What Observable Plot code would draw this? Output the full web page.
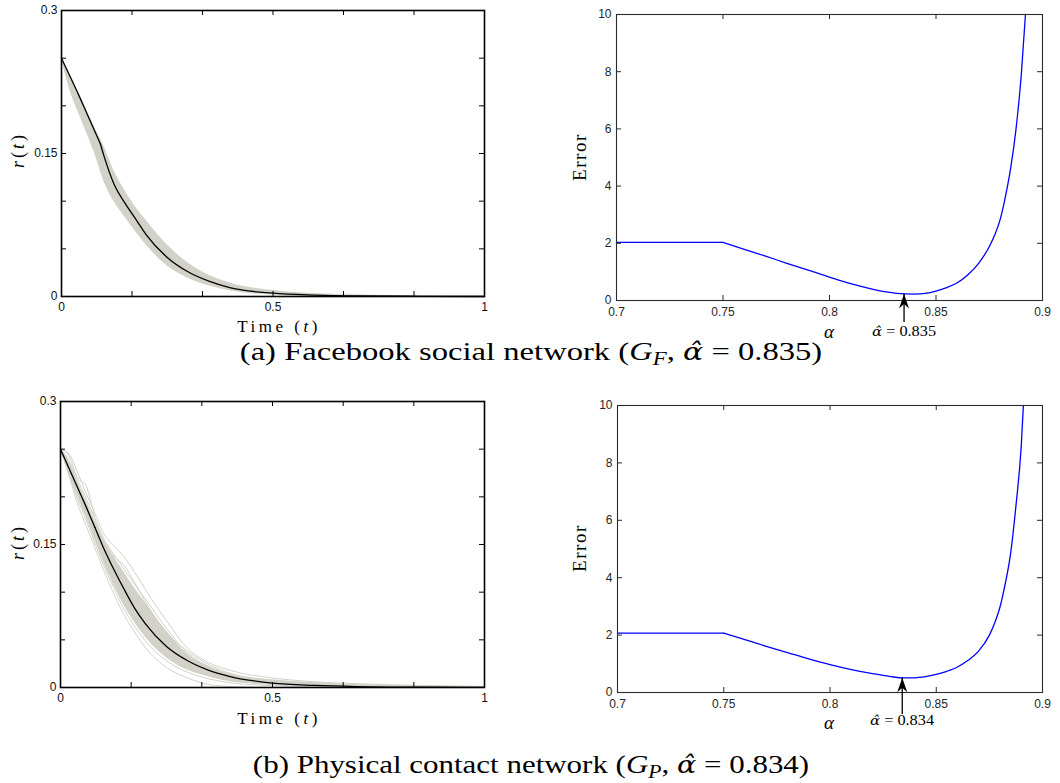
<!DOCTYPE html>
<html>
<head>
<meta charset="utf-8">
<script src="https://cdn.jsdelivr.net/npm/d3@7"></script>
<script src="https://cdn.jsdelivr.net/npm/@observablehq/plot@0.6"></script>
<style>
  html, body { margin: 0; padding: 0; background: #fff; }
  #figure { position: relative; width: 1060px; height: 783px; overflow: hidden; background: #fff; }
  .panel { position: absolute; }
  .panel svg text { font-size: 12px; }
  .label { position: absolute; white-space: nowrap; font-family: "Liberation Serif", "Times New Roman", serif;
           color: #000; line-height: 1; z-index: 2; }
  .ahat { font-family: "DejaVu Serif", serif; font-style: italic; font-size: 0.92em; }
  sub { font-size: 0.7em; vertical-align: -0.3em; line-height: 0; }
</style>
</head>
<body>
<div id="figure"></div>
<script>
// ---------- tick values ----------
const timeTickLabels = [0, 0.5, 1];
const timeMinorTicks = [0.1667, 0.3333, 0.5, 0.6667, 0.8333];
const rTickLabels = [0, 0.15, 0.3];
const rMinorTicks = [0.05, 0.1, 0.15, 0.2, 0.25];
const alphaTickLabels = [0.7, 0.75, 0.8, 0.85, 0.9];
const alphaMinorTicks = [0.75, 0.8, 0.85];
const errorTickLabels = [0, 2, 4, 6, 8, 10];
const errorMinorTicks = [2, 4, 6, 8];

// ---------- simulated runs: time grid shared by every run ----------
const runTime = [0, 0.02, 0.04, 0.06, 0.08, 0.1, 0.125, 0.15, 0.175, 0.2, 0.25, 0.3, 0.35, 0.4, 0.5, 0.6, 0.7, 0.85, 1];

// Facebook social network: average r(t) and spread of the runs
const fbMeanTime = [0, 0.02, 0.04, 0.06, 0.08, 0.092, 0.1, 0.125, 0.15, 0.175, 0.2, 0.25, 0.3, 0.35, 0.4, 0.5, 0.6, 0.7, 0.85, 1];
const fbMeanR    = [0.25, 0.231, 0.212, 0.192, 0.172, 0.160, 0.148, 0.117, 0.098, 0.0815, 0.065, 0.041, 0.0257, 0.0158, 0.009, 0.0035, 0.0015, 0.0006, 0.0002, 0];
const fbKink = 5;
const fbBandLow  = [0.25, 0.216, 0.193, 0.171, 0.148, 0.121, 0.099, 0.083, 0.068, 0.054, 0.032, 0.019, 0.011, 0.006, 0.0018, 0.0006, 0.0002, 0, 0];
const fbBandHigh = [0.25, 0.233, 0.214, 0.195, 0.176, 0.158, 0.131, 0.111, 0.094, 0.080, 0.054, 0.035, 0.022, 0.014, 0.0062, 0.003, 0.0015, 0.0005, 0.0002];
const fbRunA = [0.25, 0.224, 0.203, 0.182, 0.161, 0.139, 0.117, 0.100, 0.084, 0.070, 0.046, 0.029, 0.018, 0.011, 0.004, 0.0015, 0.0006, 0.0002, 0];
const fbRunB = [0.25, 0.219, 0.197, 0.175, 0.152, 0.127, 0.104, 0.088, 0.073, 0.059, 0.037, 0.022, 0.013, 0.007, 0.0025, 0.0008, 0.0003, 0, 0];
const fbRunC = [0.25, 0.229, 0.209, 0.190, 0.170, 0.152, 0.127, 0.108, 0.092, 0.078, 0.052, 0.033, 0.021, 0.013, 0.0055, 0.0025, 0.0012, 0.0004, 0.0001];
const fbRunD = [0.25, 0.221, 0.199, 0.178, 0.156, 0.132, 0.110, 0.094, 0.079, 0.065, 0.042, 0.026, 0.016, 0.009, 0.0032, 0.0012, 0.0004, 0.0001, 0];

// Physical contact network
const pMeanTime = [0, 0.02, 0.04, 0.06, 0.081, 0.1, 0.125, 0.15, 0.175, 0.2, 0.25, 0.3, 0.35, 0.4, 0.5, 0.6, 0.7, 0.85, 1];
const pMeanR    = [0.25, 0.230, 0.210, 0.190, 0.168, 0.148, 0.1245, 0.103, 0.083, 0.067, 0.043, 0.028, 0.018, 0.0115, 0.0046, 0.0022, 0.001, 0.0003, 0.0001];
const pKink = 4;
const pBandLow  = [0.25, 0.225, 0.201, 0.179, 0.156, 0.133, 0.108, 0.086, 0.068, 0.053, 0.031, 0.018, 0.011, 0.006, 0.0025, 0.001, 0.0004, 0.0001, 0];
const pBandHigh = [0.25, 0.237, 0.216, 0.197, 0.176, 0.157, 0.138, 0.121, 0.104, 0.089, 0.059, 0.035, 0.022, 0.014, 0.0075, 0.0045, 0.0025, 0.0015, 0.0006];
const pRunA = [0.25, 0.245, 0.226, 0.204, 0.184, 0.163, 0.149, 0.137, 0.121, 0.103, 0.070, 0.041, 0.026, 0.018, 0.010, 0.006, 0.004, 0.002, 0.001];
const pRunB = [0.25, 0.238, 0.218, 0.199, 0.178, 0.158, 0.140, 0.124, 0.108, 0.093, 0.062, 0.036, 0.022, 0.014, 0.008, 0.005, 0.003, 0.002, 0.001];
const pRunC = [0.25, 0.235, 0.212, 0.193, 0.172, 0.150, 0.132, 0.113, 0.096, 0.080, 0.052, 0.032, 0.020, 0.012, 0.006, 0.003, 0.002, 0.001, 0.0005];
const pRunD = [0.25, 0.232, 0.210, 0.188, 0.166, 0.146, 0.124, 0.104, 0.086, 0.070, 0.046, 0.030, 0.019, 0.012, 0.005, 0.002, 0.001, 0.0005, 0];
const pRunE = [0.25, 0.228, 0.206, 0.185, 0.162, 0.140, 0.117, 0.096, 0.079, 0.064, 0.040, 0.025, 0.016, 0.010, 0.004, 0.002, 0.001, 0, 0];
const pRunF = [0.25, 0.226, 0.203, 0.181, 0.158, 0.135, 0.110, 0.089, 0.072, 0.057, 0.035, 0.021, 0.013, 0.008, 0.003, 0.001, 0.0005, 0, 0];
const pRunG = [0.25, 0.224, 0.198, 0.176, 0.153, 0.130, 0.105, 0.082, 0.064, 0.049, 0.028, 0.016, 0.009, 0.005, 0.002, 0.001, 0, 0, 0];
const pRunH = [0.25, 0.222, 0.193, 0.170, 0.148, 0.125, 0.099, 0.076, 0.058, 0.042, 0.021, 0.010, 0.003, 0.001, 0, 0, 0, 0, 0];
const pRunI = [0.25, 0.243, 0.220, 0.212, 0.180, 0.152, 0.138, 0.128, 0.110, 0.090, 0.058, 0.038, 0.024, 0.015, 0.007, 0.004, 0.002, 0.001, 0];
const pRunJ = [0.25, 0.236, 0.214, 0.190, 0.170, 0.155, 0.136, 0.118, 0.100, 0.086, 0.057, 0.034, 0.021, 0.013, 0.006, 0.003, 0.0015, 0.0008, 0.0003];
const pRunK = [0.25, 0.230, 0.204, 0.186, 0.160, 0.138, 0.120, 0.100, 0.083, 0.068, 0.043, 0.027, 0.017, 0.011, 0.005, 0.0025, 0.001, 0.0005, 0];
const pRunL = [0.25, 0.233, 0.213, 0.191, 0.170, 0.149, 0.128, 0.109, 0.092, 0.076, 0.050, 0.033, 0.021, 0.013, 0.006, 0.003, 0.0015, 0.0007, 0.0002];

// ---------- fitting error against alpha ----------
const fbAlpha = [0.70, 0.75, 0.76, 0.77, 0.78, 0.79, 0.80, 0.81, 0.82, 0.825, 0.83, 0.835, 0.84, 0.845, 0.85, 0.855, 0.86, 0.865, 0.87, 0.875, 0.8775, 0.88, 0.8825, 0.885, 0.8875, 0.89, 0.892];
const fbError = [2.03, 2.03, 1.79, 1.55, 1.30, 1.06, 0.82, 0.59, 0.40, 0.32, 0.265, 0.23, 0.225, 0.25, 0.33, 0.45, 0.62, 0.90, 1.30, 1.88, 2.28, 2.80, 3.60, 4.60, 5.95, 7.85, 10.0];
const fbHat = 0.835;

const pAlpha = [0.70, 0.75, 0.76, 0.77, 0.78, 0.79, 0.80, 0.81, 0.82, 0.825, 0.83, 0.834, 0.84, 0.845, 0.85, 0.855, 0.86, 0.865, 0.87, 0.875, 0.8775, 0.88, 0.8825, 0.885, 0.8875, 0.89, 0.891];
const pError = [2.07, 2.07, 1.84, 1.61, 1.39, 1.17, 0.97, 0.80, 0.66, 0.60, 0.54, 0.51, 0.51, 0.55, 0.63, 0.74, 0.89, 1.12, 1.45, 2.0, 2.42, 2.98, 3.80, 4.85, 6.50, 8.60, 10.0];
const pHat = 0.834;

// ---------- drawing helpers ----------
const sans = "'Liberation Sans', Arial, Helvetica, sans-serif";
const runColor = "#d3d2c9";
const fig = document.getElementById("figure");

// inward tick marks on all four sides of the frame
function boxTicks(xs, ys, fw, fh, len, stroke) {
  return [
    Plot.tickX(xs, {x: d => d, insetTop: fh - len, stroke, strokeWidth: 1}),
    Plot.tickX(xs, {x: d => d, insetBottom: fh - len, stroke, strokeWidth: 1}),
    Plot.tickY(ys, {y: d => d, insetRight: fw - len, stroke, strokeWidth: 1}),
    Plot.tickY(ys, {y: d => d, insetLeft: fw - len, stroke, strokeWidth: 1})
  ];
}

// filled arrowhead pointing up, tip at the anchor point
const arrowHead = {
  draw(context, size) {
    const s = Math.sqrt(size / Math.PI);
    context.moveTo(0, 0);
    context.lineTo(s, 2.9 * s);
    context.lineTo(0, 2.0 * s);
    context.lineTo(-s, 2.9 * s);
    context.closePath();
  }
};

function spreadPlot(cfg) {
  const fw = cfg.width - cfg.marginLeft - cfg.marginRight;
  const fh = cfg.height - cfg.marginTop - cfg.marginBottom;
  const runRows = cfg.runs.flatMap((vals, k) => vals.map((r, i) => ({t: runTime[i], r, run: k})));
  const bandRows = runTime.map((t, i) => ({t, lo: cfg.bandLow[i], hi: cfg.bandHigh[i]}));
  const meanRows = cfg.meanTime.map((t, i) => ({t, r: cfg.meanR[i]}));
  return Plot.plot({
    width: cfg.width, height: cfg.height,
    marginLeft: cfg.marginLeft, marginRight: cfg.marginRight,
    marginTop: cfg.marginTop, marginBottom: cfg.marginBottom,
    style: {fontFamily: sans, fontSize: "12px", color: "#111", background: "transparent", overflow: "visible"},
    x: {domain: [0, 1], ticks: timeTickLabels, tickSize: 0, tickPadding: 6, tickFormat: d => String(d), label: null},
    y: {domain: [0, 0.3], ticks: rTickLabels, tickSize: 0, tickPadding: 4, tickFormat: d => String(d), label: null},
    marks: [
      Plot.areaY(bandRows, {x: "t", y1: "lo", y2: "hi", fill: runColor, curve: "monotone-x"}),
      Plot.line(runRows, {x: "t", y: "r", z: "run", stroke: runColor, strokeWidth: 1, curve: "monotone-x"}),
      Plot.line(meanRows.slice(0, cfg.kink + 1), {x: "t", y: "r", stroke: "#000", strokeWidth: 1.3, curve: "monotone-x"}),
      Plot.line(meanRows.slice(cfg.kink), {x: "t", y: "r", stroke: "#000", strokeWidth: 1.3, curve: "monotone-x"}),
      ...boxTicks(timeMinorTicks, rMinorTicks, fw, fh, 5, "#000"),
      Plot.frame({stroke: "#000", strokeWidth: 1.6})
    ]
  });
}

function errorPlot(cfg) {
  const fw = cfg.width - cfg.marginLeft - cfg.marginRight;
  const fh = cfg.height - cfg.marginTop - cfg.marginBottom;
  const rows = cfg.alpha.map((a, i) => ({a, e: cfg.error[i]}));
  const hatError = cfg.error[cfg.alpha.indexOf(cfg.hat)];
  const frameColor = "#2b2b2b";
  return Plot.plot({
    width: cfg.width, height: cfg.height,
    marginLeft: cfg.marginLeft, marginRight: cfg.marginRight,
    marginTop: cfg.marginTop, marginBottom: cfg.marginBottom,
    style: {fontFamily: sans, fontSize: "12px", color: "#262626", background: "transparent", overflow: "visible"},
    x: {domain: [0.7, 0.9], ticks: alphaTickLabels, tickSize: 0, tickPadding: 7, tickFormat: d => String(d), label: null},
    y: {domain: [0, 10], ticks: errorTickLabels, tickSize: 0, tickPadding: 5, tickFormat: d => String(d), label: null},
    marks: [
      Plot.line(rows.slice(0, 2), {x: "a", y: "e", stroke: "#0000ff", strokeWidth: 1.3}),
      Plot.line(rows.slice(1), {x: "a", y: "e", stroke: "#0000ff", strokeWidth: 1.3, curve: "monotone-x"}),
      ...boxTicks(alphaMinorTicks, errorMinorTicks, fw, fh, 5, frameColor),
      Plot.frame({stroke: frameColor, strokeWidth: 1.1}),
      Plot.ruleX([cfg.hat], {x: d => d, y1: hatError, y2: 0, insetBottom: -22, stroke: "#000", strokeWidth: 1.3}),
      Plot.dot([cfg.hat], {x: d => d, y: hatError, symbol: arrowHead, r: 5, fill: "#000", stroke: "none"})
    ]
  });
}

function mount(plot, left, top, w, h) {
  const d = document.createElement("div");
  d.className = "panel";
  d.style.cssText = `left:${left}px;top:${top}px;width:${w}px;height:${h}px`;
  d.appendChild(plot);
  fig.appendChild(d);
  return plot;
}

// centred text, optionally rotated, letter-spaced or stretched to a given length
function addLabel(html, cx, cy, {size = 18, target = null, rotate = false, spacing = 0} = {}) {
  const el = document.createElement("div");
  el.className = "label";
  el.style.fontSize = size + "px";
  el.style.letterSpacing = spacing + "px";
  el.innerHTML = html;
  fig.appendChild(el);
  const sx = target ? target / el.offsetWidth : 1;
  el.style.left = cx + "px";
  el.style.top = cy + "px";
  el.style.transform = `translate(-50%, -50%)${rotate ? " rotate(-90deg)" : ""} scaleX(${sx})`;
}

const alphaHat = `<span class="ahat">\u03B1\u0302</span>`;

// ---------- (a) Facebook social network ----------
mount(spreadPlot({
  width: 530, height: 330, marginLeft: 61, marginRight: 46, marginTop: 10, marginBottom: 34,
  meanTime: fbMeanTime, meanR: fbMeanR, kink: fbKink,
  bandLow: fbBandLow, bandHigh: fbBandHigh,
  runs: [fbRunA, fbRunB, fbRunC, fbRunD]
}), 0, 0, 530, 330);

const errA = mount(errorPlot({
  width: 530, height: 345, marginLeft: 86, marginRight: 18, marginTop: 14, marginBottom: 45,
  alpha: fbAlpha, error: fbError, hat: fbHat
}), 530, 0, 530, 345);

addLabel("<i>r</i>(<i>t</i>)", 18, 150, {size: 18, spacing: 3, rotate: true});
addLabel("Time (<i>t</i>)", 279, 326, {size: 17, spacing: 3.5});
addLabel("Error", 579, 157, {size: 19, spacing: 1.6, rotate: true});
addLabel("<i>α</i>", 829, 331, {size: 19});
addLabel(`${alphaHat} = ${fbHat}`, 530 + errA.scale("x").apply(fbHat), 332, {size: 14, target: 64});
addLabel(`(a) Facebook social network (<i>G</i><sub><i>F</i></sub>, ${alphaHat} = ${fbHat})`, 531, 352, {size: 26, target: 582});

// ---------- (b) Physical contact network ----------
mount(spreadPlot({
  width: 530, height: 330, marginLeft: 60, marginRight: 46, marginTop: 11, marginBottom: 33,
  meanTime: pMeanTime, meanR: pMeanR, kink: pKink,
  bandLow: pBandLow, bandHigh: pBandHigh,
  runs: [pRunA, pRunB, pRunC, pRunD, pRunE, pRunF, pRunG, pRunH, pRunI, pRunJ, pRunK, pRunL]
}), 0, 390, 530, 330);

const errB = mount(errorPlot({
  width: 530, height: 345, marginLeft: 87, marginRight: 18, marginTop: 15, marginBottom: 43,
  alpha: pAlpha, error: pError, hat: pHat
}), 530, 390, 530, 345);

addLabel("<i>r</i>(<i>t</i>)", 18, 542, {size: 18, spacing: 3, rotate: true});
addLabel("Time (<i>t</i>)", 279, 718, {size: 17, spacing: 3.5});
addLabel("Error", 579, 548, {size: 19, spacing: 1.6, rotate: true});
addLabel("<i>α</i>", 829, 722, {size: 19});
addLabel(`${alphaHat} = ${pHat}`, 530 + errB.scale("x").apply(pHat), 721, {size: 14, target: 64});
addLabel(`(b) Physical contact network (<i>G</i><sub><i>P</i></sub>, ${alphaHat} = ${pHat})`, 531, 765, {size: 26, target: 556});
</script>
</body>
</html>
